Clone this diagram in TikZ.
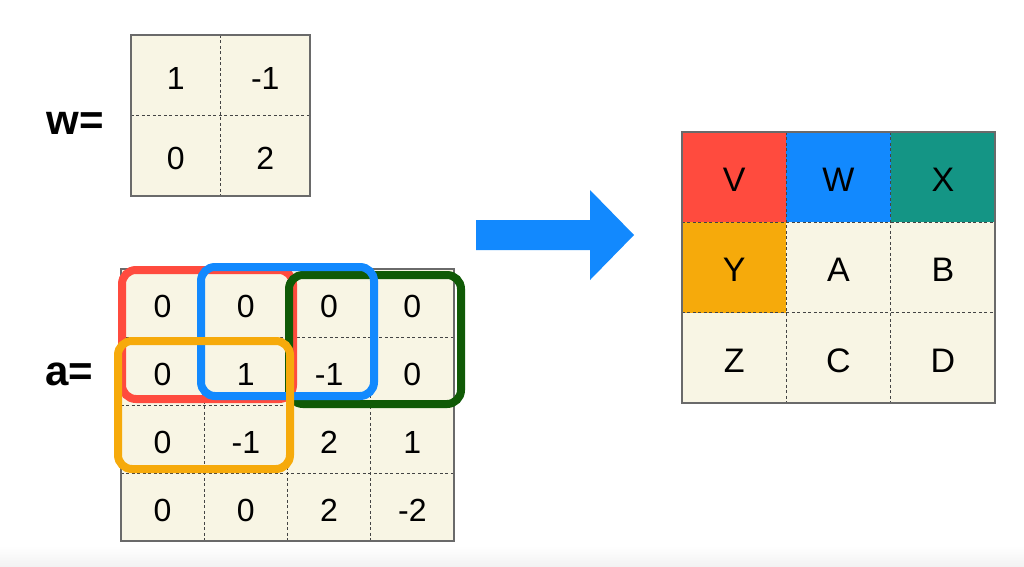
\documentclass[tikz,border=0pt]{standalone}
\usepackage{fontspec}
\setmainfont{Liberation Sans}
\definecolor{cream}{HTML}{F8F5E4}
\definecolor{boxred}{HTML}{FF4B3E}
\definecolor{boxblue}{HTML}{1289FE}
\definecolor{boxgreen}{HTML}{105A06}
\definecolor{boxorange}{HTML}{F6AA0B}
\definecolor{boxteal}{HTML}{149585}
\definecolor{framegray}{HTML}{6A6A6A}
\definecolor{dashgray}{HTML}{444444}
\begin{document}
\begin{tikzpicture}[x=1pt,y=-1pt,
  cell/.style={rectangle, inner sep=0pt, fill=cream, text height=28pt, text depth=0pt, font=\fontsize{32}{38}\selectfont},
  wcell/.style={cell, minimum width=89.5pt, minimum height=80.5pt},
  acell/.style={cell, minimum width=83.25pt, minimum height=68pt},
  ocell/.style={cell, minimum width=104.33pt, minimum height=90.33pt, text height=28.5pt, font=\fontsize{34}{40}\selectfont},
  gridline/.style={draw=dashgray, line width=1pt, dash pattern=on 3pt off 2.5pt},
  frame/.style={draw=framegray, line width=1.5pt},
  hl/.style={line width=8pt, rounded corners=14pt},
  lab/.style={font=\fontsize{42}{48}\selectfont\bfseries, inner sep=0pt}
]
\useasboundingbox (0,0) rectangle (1024,566);
\fill[white] (0,0) rectangle (1024,566);
\shade[top color=white, bottom color=black!5] (0,546) rectangle (1024,566);

% labels
\node[lab] (wlab) at (75,123) {w=};
\node[lab] (alab) at (69,374) {a=};

% w matrix
\foreach \t [count=\k from 0] in {1,-1,0,2}{
  \pgfmathtruncatemacro\c{mod(\k,2)}
  \pgfmathtruncatemacro\r{div(\k,2)}
  \node[wcell] (w\r\c) at ({131+89.5*(\c+0.5)},{35+80.5*(\r+0.5)}) {\t};
}
\draw[gridline] (w00.north east) -- (w10.south east);
\draw[gridline] (w00.south west) -- (w01.south east);
\draw[frame] (w00.north west) rectangle (w11.south east);

% a matrix
\foreach \t [count=\k from 0] in {0,0,0,0, 0,1,-1,0, 0,-1,2,1, 0,0,2,-2}{
  \pgfmathtruncatemacro\c{mod(\k,4)}
  \pgfmathtruncatemacro\r{div(\k,4)}
  \node[acell] (a\r\c) at ({121+83.25*(\c+0.5)},{269+68*(\r+0.5)}) {\t};
}
\foreach \i in {0,1,2}{
  \draw[gridline] (a0\i.north east) -- (a3\i.south east);
  \draw[gridline] (a\i0.south west) -- (a\i3.south east);
}
\draw[frame] (a00.north west) rectangle (a33.south east);

% output matrix
\foreach \t/\col [count=\k from 0] in {V/boxred,W/boxblue,X/boxteal,Y/boxorange,A/cream,B/cream,Z/cream,C/cream,D/cream}{
  \pgfmathtruncatemacro\c{mod(\k,3)}
  \pgfmathtruncatemacro\r{div(\k,3)}
  \node[ocell, fill=\col] (o\r\c) at ({682+104.33*(\c+0.5)},{132+90.33*(\r+0.5)}) {\t};
}
\foreach \i in {0,1}{
  \draw[gridline] (o0\i.north east) -- (o2\i.south east);
  \draw[gridline] (o\i0.south west) -- (o\i2.south east);
}
\draw[frame] (o00.north west) rectangle (o22.south east);

% highlight boxes
\draw[hl, boxred] (122,270) rectangle (293,399);
\draw[hl, boxgreen] (289,275) rectangle (461,404);
\draw[hl, boxblue] (201,267) rectangle (374,396);
\draw[hl, boxorange] (118,341) rectangle (290,469);

% arrow
\fill[boxblue] (476,220) -- (590,220) -- (590,190) -- (634,235) -- (590,280) -- (590,250) -- (476,250) -- cycle;
\end{tikzpicture}
\end{document}
